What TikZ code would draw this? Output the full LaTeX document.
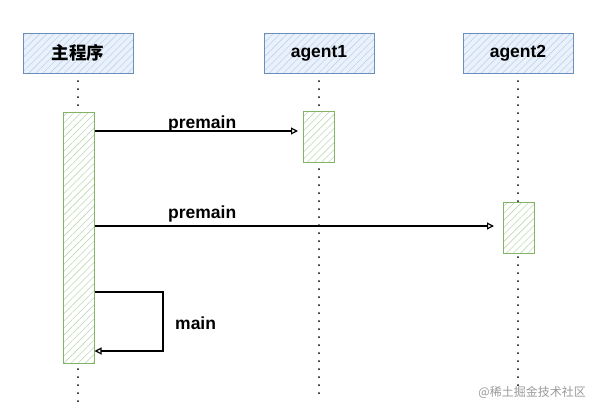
\documentclass[tikz,border=0pt]{standalone}
\usepackage{fontspec}
\setmainfont{Liberation Sans}
\newfontfamily\cjk{Noto Sans CJK SC}
\usetikzlibrary{patterns.meta,arrows.meta}
\definecolor{hdrfill}{HTML}{DAE8FC}
\definecolor{hdrline}{HTML}{6C8EBF}
\definecolor{actfill}{HTML}{D5E8D4}
\definecolor{actline}{HTML}{82B366}
\tikzset{
  hdr/.style={draw=hdrline, line width=1pt,
    pattern={Lines[angle=45,distance=5pt,line width=0.6pt]}, pattern color=hdrline!40,
    minimum width=110pt, minimum height=40pt, inner sep=0pt, font=\bfseries\fontsize{17.5}{20}\selectfont},
  act/.style={draw=actline, line width=1pt,
    pattern={Lines[angle=45,distance=5pt,line width=0.6pt]}, pattern color=actline!50,
    minimum width=31pt, inner sep=0pt},
  life/.style={line width=2pt, dash pattern=on 0pt off 8pt, line cap=round},
  msg/.style={line width=1.2pt, -{Triangle[open,length=7pt,width=7pt]}},
  lbl/.style={font=\bfseries\fontsize{17.5}{20}\selectfont, inner sep=0pt}
}
\begin{document}
\begin{tikzpicture}[x=1pt,y=-1pt]
\useasboundingbox (0,0) rectangle (598,413);
% lifelines
\coordinate (l0t) at (78,73); \coordinate (l0b) at (78,405);
\coordinate (l1t) at (319,73); \coordinate (l1b) at (319,395);
\coordinate (l2t) at (518,73); \coordinate (l2b) at (518,392);
\draw[life] (l0t) -- (l0b);
\draw[life] (l1t) -- (l1b);
\draw[life] (l2t) -- (l2b);
% headers
\node[hdr, fill=hdrfill!60] (h0) at (78,53) {}; \node[hdr] (h0p) at (78,53) {\cjk\bfseries 主程序};
\node[hdr, fill=hdrfill!60] (h1) at (319,53) {}; \node[hdr] (h1p) at (319,53) {agent1};
\node[hdr, fill=hdrfill!60] (h2) at (518,53) {}; \node[hdr] (h2p) at (518,53) {agent2};
% activations
\node[act, fill=white, minimum height=251pt] (a0b) at (78.5,237.5) {};
\node[act, minimum height=251pt] (a0) at (78.5,237.5) {};
\node[act, fill=white, minimum height=51pt] (a1b) at (318.5,136.5) {};
\node[act, minimum height=51pt] (a1) at (318.5,136.5) {};
\node[act, fill=white, minimum height=51pt] (a2b) at (518.5,227.5) {};
\node[act, minimum height=51pt] (a2) at (518.5,227.5) {};
% messages
\coordinate (m1s) at (a0.east |- 0,131);
\coordinate (m1e) at (298,131);
\draw[msg] (m1s) -- (m1e);
\node[lbl, anchor=base west] (t1) at (168,128) {premain};
\coordinate (m2s) at (a0.east |- 0,226);
\coordinate (m2e) at (494,226);
\draw[msg] (m2s) -- (m2e);
\node[lbl, anchor=base west] (t2) at (168,218) {premain};
\coordinate (m3s) at (a0.east |- 0,292);
\coordinate (m3e) at (a0.east |- 0,351);
\draw[msg] (m3s) -- (163,292) -- (163,351) -- (m3e);
\node[lbl, anchor=base west] (t3) at (175,329) {main};
% watermark
\node[font=\cjk\fontsize{12}{14}\selectfont, text=black!40, anchor=base east, inner sep=0pt] (wm) at (586,396) {@稀土掘金技术社区};
\end{tikzpicture}
\end{document}
